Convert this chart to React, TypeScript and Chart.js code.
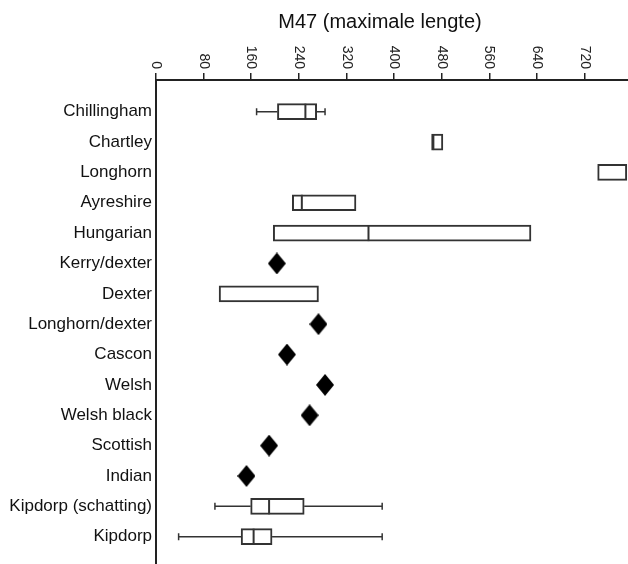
import React, { useEffect, useRef } from "react";
import { Chart, registerables } from "chart.js";

Chart.register(...registerables);

const title = "M47 (maximale lengte)";
const categories = [
  "Chillingham",
  "Chartley",
  "Longhorn",
  "Ayreshire",
  "Hungarian",
  "Kerry/dexter",
  "Dexter",
  "Longhorn/dexter",
  "Cascon",
  "Welsh",
  "Welsh black",
  "Scottish",
  "Indian",
  "Kipdorp (schatting)",
  "Kipdorp",
];
const boxLow: (number | null)[] = [204, 463, 742, 229, 197, null, 106, null, null, null, null, null, null, 159, 143];
const boxHigh: (number | null)[] = [270, 482, 791, 336, 630, null, 273, null, null, null, null, null, null, 249, 195];
const median: (number | null)[] = [251, 466, null, 245, 357, null, null, null, null, null, null, null, null, 190, 164];
const whiskerLow: (number | null)[] = [169, null, null, null, null, null, null, null, null, null, null, null, null, 99, 38];
const whiskerHigh: (number | null)[] = [284, null, null, null, null, null, null, null, null, null, null, null, null, 380, 380];
const singleValue: (number | null)[] = [null, null, null, null, null, 203, null, 273, 220, 284, 258, 190, 152, null, null];
const xTicks = [0, 80, 160, 240, 320, 400, 480, 560, 640, 720];

const FONT = '"Liberation Sans", Arial, Helvetica, sans-serif';

function makeDiamond(): HTMLCanvasElement {
  const c = document.createElement("canvas");
  c.width = 18;
  c.height = 22;
  const g = c.getContext("2d")!;
  g.fillStyle = "#000";
  g.beginPath();
  g.moveTo(9, 0);
  g.lineTo(18, 11);
  g.lineTo(9, 22);
  g.lineTo(0, 11);
  g.closePath();
  g.fill();
  return c;
}

const zeroPad = (s: any) => {
  s.paddingTop = 0;
  s.paddingBottom = 0;
  s.paddingLeft = 0;
  s.paddingRight = 0;
};

const overlayPlugin = {
  id: "overlay",
  afterDraw(chart: any) {
    const { ctx } = chart;
    const x = chart.scales.x;
    const y = chart.scales.y;
    ctx.save();
    ctx.strokeStyle = "#333";
    categories.forEach((_, i) => {
      const py = y.getPixelForValue(i);
      const wl = whiskerLow[i];
      const wh = whiskerHigh[i];
      const lo = boxLow[i];
      const hi = boxHigh[i];
      if (wl != null && lo != null) {
        const a = x.getPixelForValue(wl);
        const b = x.getPixelForValue(lo);
        ctx.lineWidth = 1.5;
        ctx.beginPath();
        ctx.moveTo(a, py);
        ctx.lineTo(b, py);
        ctx.moveTo(a, py - 3.5);
        ctx.lineTo(a, py + 3.5);
        ctx.stroke();
      }
      if (wh != null && hi != null) {
        const a = x.getPixelForValue(hi);
        const b = x.getPixelForValue(wh);
        ctx.lineWidth = 1.5;
        ctx.beginPath();
        ctx.moveTo(a, py);
        ctx.lineTo(b, py);
        ctx.moveTo(b, py - 3.5);
        ctx.lineTo(b, py + 3.5);
        ctx.stroke();
      }
      const m = median[i];
      if (m != null) {
        const px = x.getPixelForValue(m);
        ctx.lineWidth = 2;
        ctx.beginPath();
        ctx.moveTo(px, py - 8);
        ctx.lineTo(px, py + 8);
        ctx.stroke();
      }
    });
    // rotated x tick labels (clockwise)
    ctx.fillStyle = "#222";
    ctx.font = `14px ${FONT}`;
    ctx.textAlign = "right";
    ctx.textBaseline = "middle";
    x.ticks.forEach((t: any) => {
      const px = x.getPixelForValue(t.value);
      ctx.save();
      ctx.translate(px, 69);
      ctx.rotate(Math.PI / 2);
      ctx.fillText(String(t.value), 0, 0);
      ctx.restore();
    });
    // title
    ctx.font = `20px ${FONT}`;
    ctx.textAlign = "center";
    ctx.fillStyle = "#111";
    ctx.fillText(title, 380, 22);
    ctx.restore();
  },
};

export default function App() {
  const ref = useRef<HTMLCanvasElement>(null);
  useEffect(() => {
    if (!ref.current) return;
    const diamond = makeDiamond();
    const boxRows = categories.map((_, i) => i).filter((i) => boxLow[i] != null && boxHigh[i] != null);
    const pointRows = categories.map((_, i) => i).filter((i) => singleValue[i] != null);
    const chart = new Chart(ref.current, {
      type: "bar",
      data: {
        datasets: [
          {
            type: "bar",
            indexAxis: "y",
            xAxisID: "x",
            yAxisID: "y",
            data: boxRows.map((i) => ({ x: [boxLow[i], boxHigh[i]], y: i })) as any,
            backgroundColor: "#ffffff",
            borderColor: "#333",
            borderWidth: 2,
            borderSkipped: false,
            barThickness: 16,
          } as any,
          {
            type: "scatter",
            xAxisID: "x",
            yAxisID: "y",
            data: pointRows.map((i) => ({ x: singleValue[i], y: i })) as any,
            pointStyle: diamond as any,
            pointRadius: 10,
            showLine: false,
            clip: false,
          } as any,
        ],
      },
      options: {
        animation: false,
        responsive: false,
        devicePixelRatio: 1,
        layout: { padding: 0, autoPadding: false },
        plugins: { legend: { display: false }, tooltip: { enabled: false }, title: { display: false } },
        scales: {
          x: {
            type: "linear",
            position: "top",
            offset: false,
            min: 0,
            max: 793,
            afterBuildTicks: (s: any) => {
              s.ticks = xTicks.map((v) => ({ value: v }));
            },
            afterFit: (s: any) => {
              s.height = 80;
              zeroPad(s);
            },
            ticks: { display: false },
            grid: { offset: false, drawOnChartArea: false, drawTicks: true, tickLength: 7, color: "#222", lineWidth: 1.5 },
            border: { display: true, width: 2, color: "#222" },
          },
          y: {
            type: "linear",
            offset: false,
            min: -1.044,
            max: 14.9,
            reverse: true,
            afterBuildTicks: (s: any) => {
              s.ticks = categories.map((_, i) => ({ value: i }));
            },
            afterFit: (s: any) => {
              s.width = 156;
              zeroPad(s);
            },
            ticks: {
              autoSkip: false,
              padding: 4,
              color: "#111",
              font: { family: FONT, size: 17 },
              callback: (v: any) => categories[v as number] ?? "",
            },
            grid: { offset: false, display: false, drawTicks: false },
            border: { display: true, width: 2, color: "#222" },
          },
        },
      } as any,
      plugins: [overlayPlugin],
    });
    return () => chart.destroy();
  }, []);
  return (
    <div style={{ position: "absolute", left: 0, top: 0, width: 628, height: 564, background: "#fff" }}>
      <canvas ref={ref} width={628} height={564} style={{ display: "block", width: 628, height: 564 }} />
    </div>
  );
}
